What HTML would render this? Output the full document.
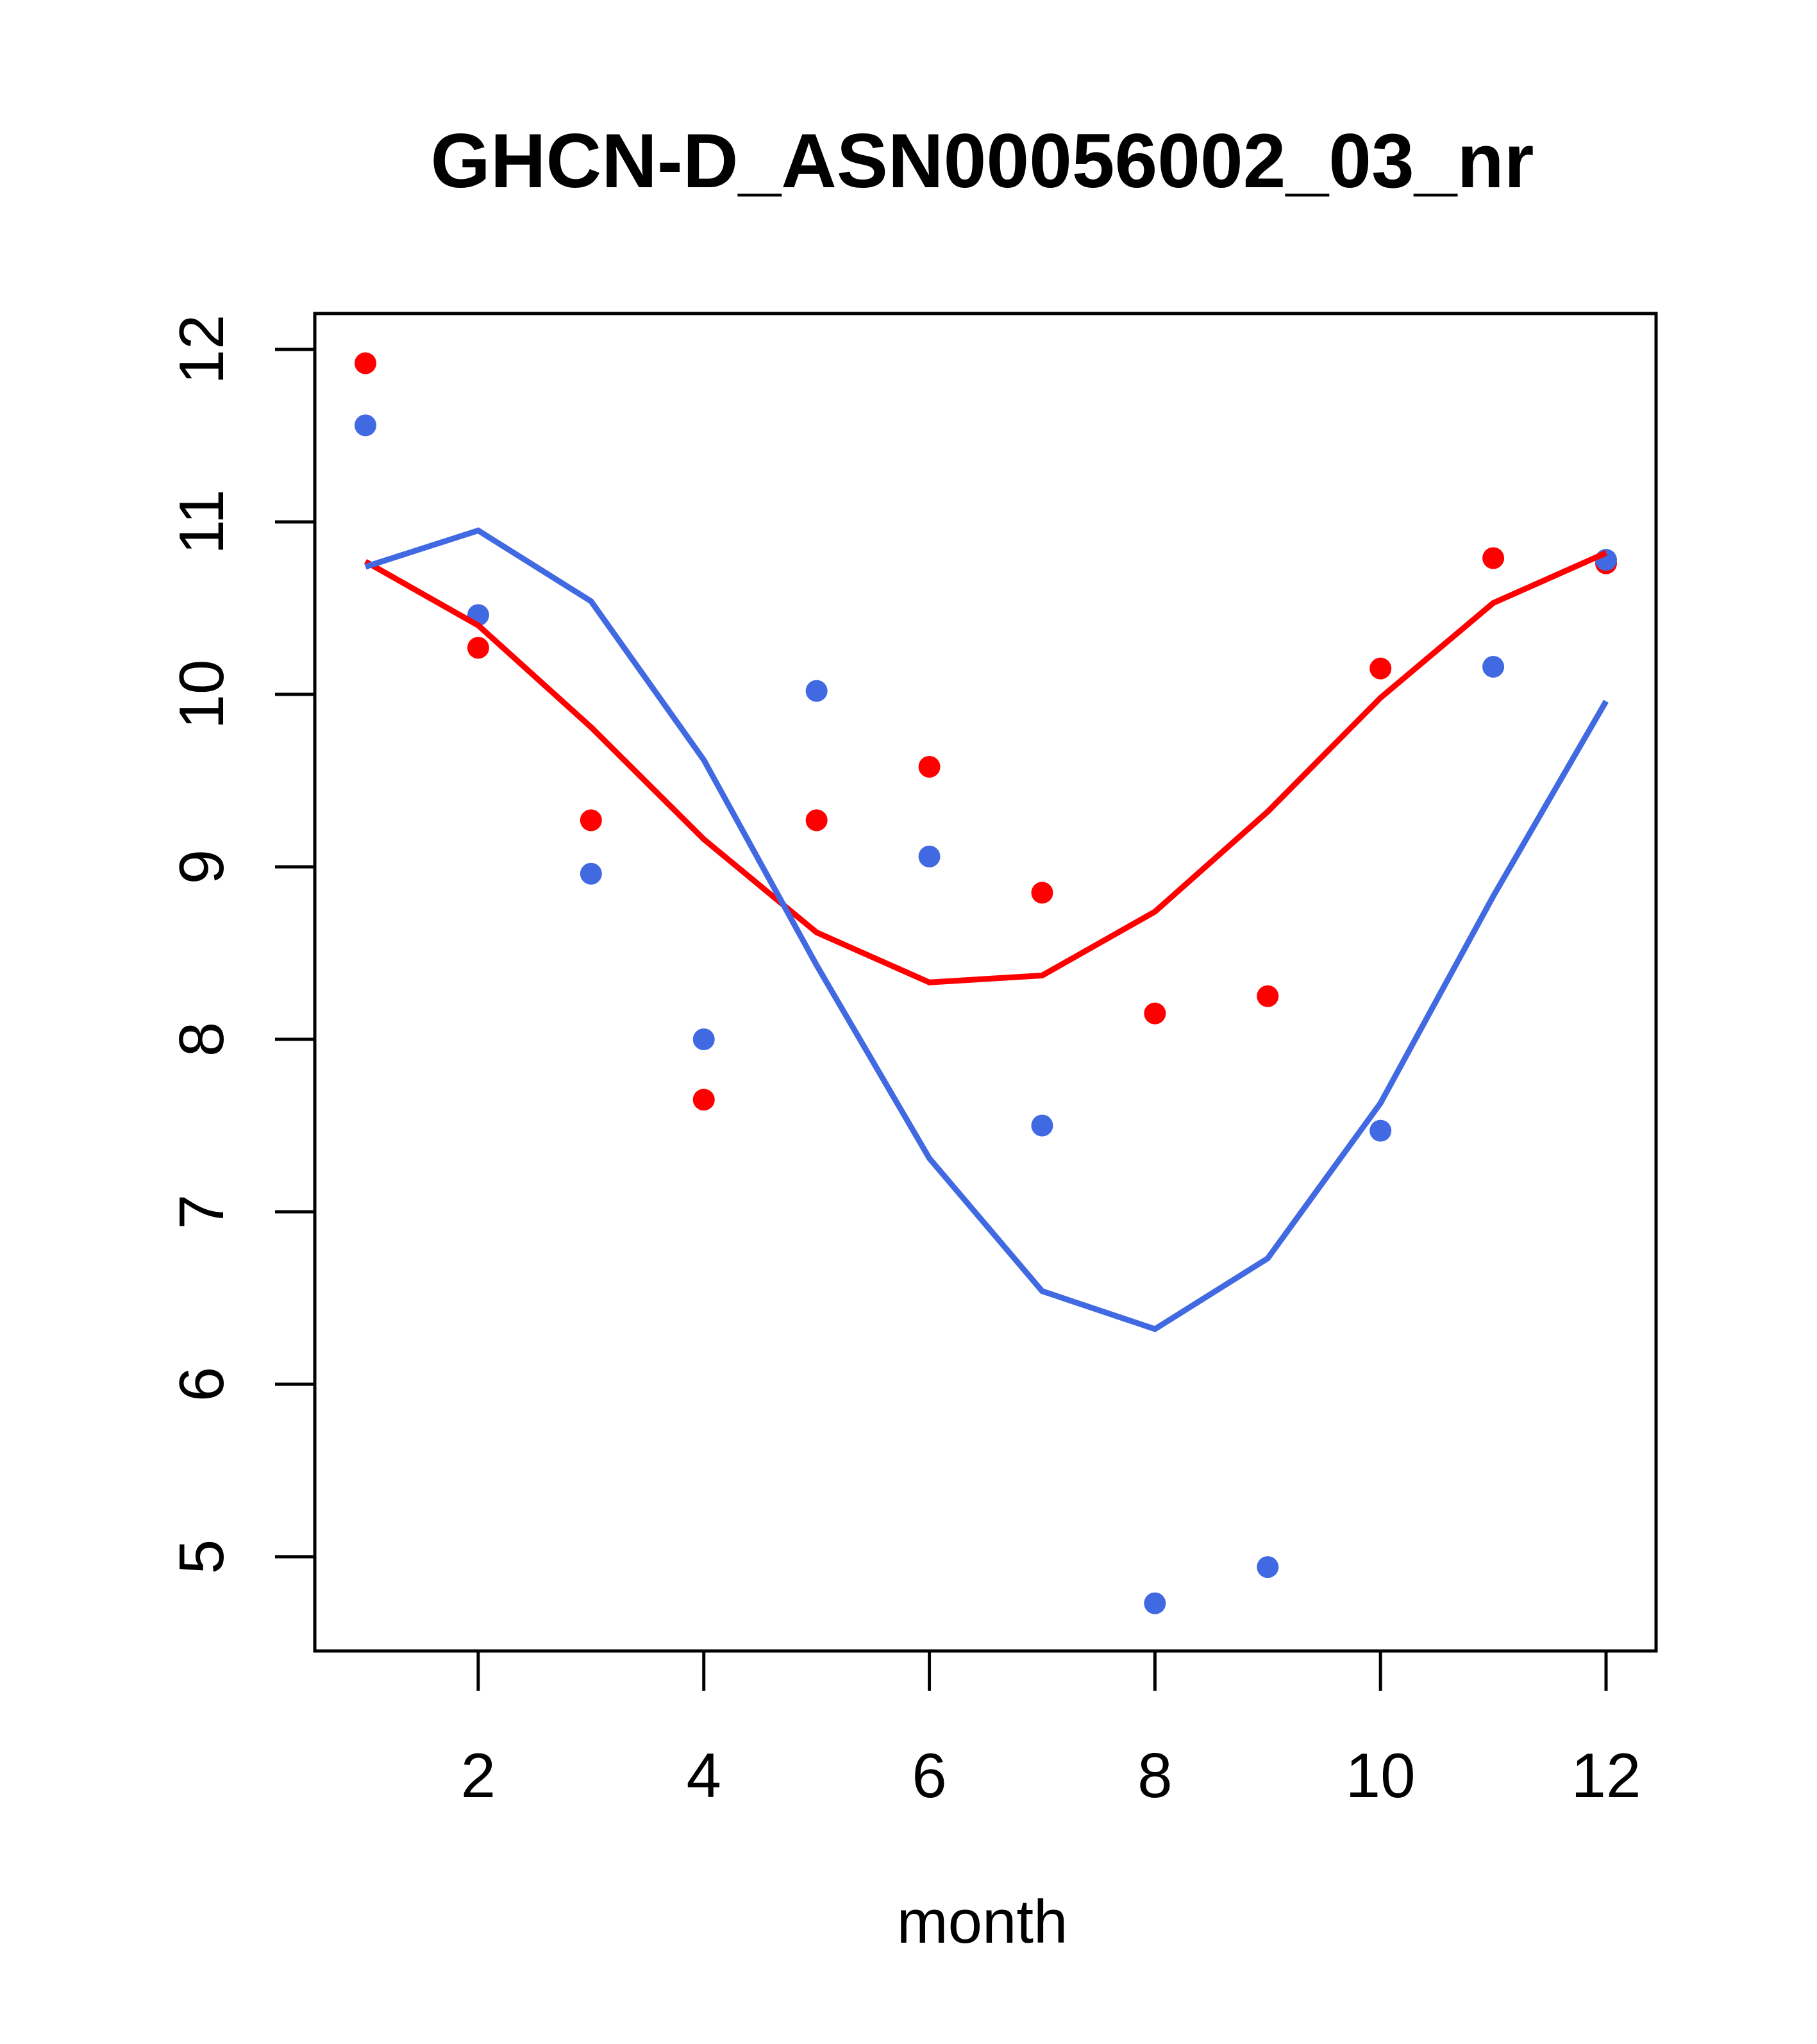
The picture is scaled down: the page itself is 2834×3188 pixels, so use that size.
<!DOCTYPE html>
<html><head><meta charset="utf-8"><style>html,body{margin:0;padding:0;background:#fff}svg{display:block}text{font-family:"Liberation Sans",Arial,sans-serif}</style></head>
<body>
<svg id="chart" width="2834" height="3188" viewBox="0 0 2834 3188" xmlns="http://www.w3.org/2000/svg">
<rect width="2834" height="3188" fill="#fff"/>
<text x="1532" y="292" text-anchor="middle" font-size="120" font-weight="bold">GHCN-D_ASN00056002_03_nr</text>
<rect x="491" y="489" width="2092" height="2086" fill="none" stroke="#000" stroke-width="5"/>
<g id="xaxis"></g>
<g id="yaxis"></g>
<g id="series"></g>
<text x="1532" y="3030" text-anchor="middle" font-size="96">month</text>
</svg>
<script>
const months = [1,2,3,4,5,6,7,8,9,10,11,12];
const redPoints = [11.92,10.27,9.27,7.65,9.27,9.58,8.85,8.15,8.25,10.15,10.79,10.76];
const bluePoints = [11.56,10.46,8.96,8.00,10.02,9.06,7.50,4.73,4.94,7.47,10.16,10.78];
const redLine = [10.77,10.40,9.81,9.16,8.62,8.33,8.37,8.74,9.32,9.98,10.53,10.82];
const blueLine = [10.74,10.95,10.54,9.62,8.43,7.31,6.54,6.32,6.73,7.63,8.83,9.96];
const xTicks = [2,4,6,8,10,12];
const yTicks = [5,6,7,8,9,10,11,12];

const NS = "http://www.w3.org/2000/svg";
function xs(m){ return 570 + (m-1)*(2505-570)/11; }
function ys(v){ return 545 + (12-v)*269; }
function mk(tag, attrs, parent){ const e=document.createElementNS(NS,tag); for(const k in attrs) e.setAttribute(k,attrs[k]); parent.appendChild(e); return e; }

const xa=document.getElementById('xaxis'), ya=document.getElementById('yaxis'), sg=document.getElementById('series');
xTicks.forEach(t=>{
  const l=mk('line',{x1:xs(t),x2:xs(t),y1:2575,y2:2637,stroke:'#000','stroke-width':5},xa);
  
  
  const tx=mk('text',{x:xs(t),y:2803,'text-anchor':'middle','font-size':98},xa);
  tx.textContent=t;
  
  
});
yTicks.forEach(t=>{
  const l=mk('line',{x1:429,x2:491,y1:ys(t),y2:ys(t),stroke:'#000','stroke-width':5},ya);
  
  
  const tx=mk('text',{x:0,y:0,'text-anchor':'middle','font-size':98,transform:`translate(348,${ys(t)}) rotate(-90)`},ya);
  tx.textContent=t;
  
  
});
function line(vals,color,name){
  const p=mk('polyline',{points:months.map((m,i)=>xs(m)+','+ys(vals[i])).join(' '),fill:'none',stroke:color,'stroke-width':9},sg);
  
  
}
function pts(vals,color,name){
  months.forEach((m,i)=>{
    const c=mk('circle',{cx:xs(m),cy:ys(vals[i]),r:17,fill:color},sg);
    
    
  });
}
pts(redPoints,'#ff0000','red-point');
pts(bluePoints,'#4169e1','blue-point');
line(redLine,'#ff0000','red-line');
line(blueLine,'#4169e1','blue-line');
</script>
</body></html>
